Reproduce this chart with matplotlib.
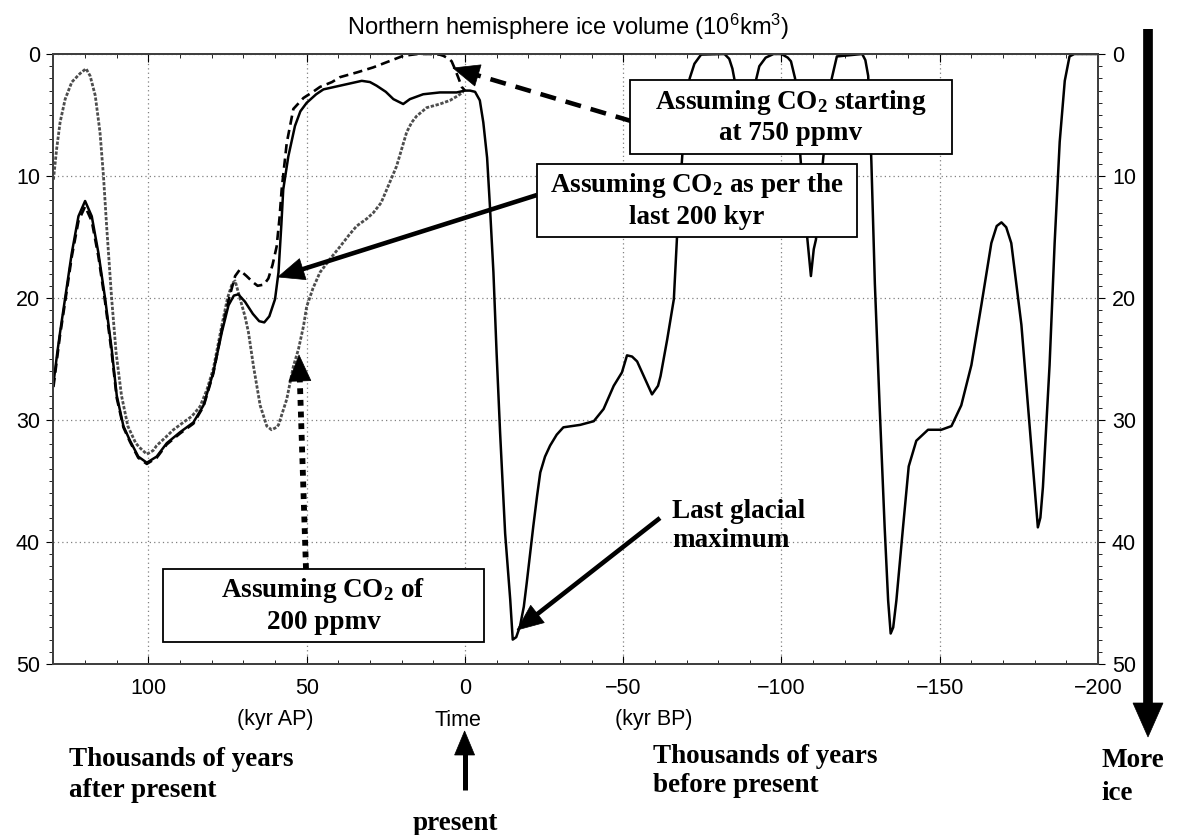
import numpy as np
import matplotlib
matplotlib.use('Agg')
import matplotlib.pyplot as plt
from matplotlib.ticker import MultipleLocator
from matplotlib.lines import Line2D
from matplotlib.patches import Rectangle, Polygon

plt.rcParams['font.family'] = ['Liberation Sans', 'DejaVu Sans']
plt.rcParams['mathtext.default'] = 'regular'

# time in kyr (positive = after present), ice volume in 10^6 km^3
solid_x = [130.0, 128.8, 127.9, 126.3, 124.2, 122.1, 120.0, 117.9, 115.8, 113.7,
           111.6, 110.0, 107.9, 105.8, 103.2, 100.5, 97.4, 94.2, 90.0, 85.8,
           82.6, 79.5, 76.8, 74.7, 73.0, 71.6, 69.5, 67.0, 65.0, 63.4,
           61.8, 60.0, 58.9, 58.0, 57.4, 55.8, 53.7, 52.0, 50.0, 47.0,
           44.7, 39.5, 32.6, 30.0, 27.9, 25.0, 22.6, 19.5, 17.4, 13.2,
           7.9, 2.6, 0.0, -1.6, -3.2, -4.7, -5.8, -7.0, -7.9, -9.0,
           -10.0, -11.1, -12.7, -14.3, -15.1, -16.2, -17.4, -18.6, -19.5, -20.6,
           -21.6, -22.8, -23.8, -25.3, -26.9, -29.0, -31.1, -36.4, -40.7, -43.8,
           -47.0, -49.6, -51.2, -52.8, -54.4, -57.0, -59.1, -61.0, -61.8, -63.9,
           -66.0, -67.0, -68.0, -69.0, -69.8, -71.0, -72.5, -74.6, -82.0, -83.5,
           -84.5, -85.3, -86.5, -88.5, -90.5, -91.8, -93.0, -95.0, -97.5, -100.0,
           -102.0, -103.0, -104.3, -105.2, -106.0, -107.2, -108.2, -109.3, -110.2, -110.9,
           -113.2, -115.8, -117.5, -125.5, -126.5, -127.4, -128.4, -129.5, -131.0, -132.6,
           -133.7, -134.5, -135.3, -136.3, -138.4, -140.2, -142.6, -146.3, -150.5, -153.7,
           -156.8, -160.0, -163.2, -166.3, -168.0, -169.5, -171.0, -172.6, -175.8, -178.4,
           -180.5, -181.0, -181.8, -182.6, -184.7, -186.3, -187.9, -189.5, -191.0, -192.5,
           -200.0]
solid_y = [27.0, 24.5, 22.8, 20.0, 16.3, 13.3, 12.05, 13.3, 16.3, 20.0,
           24.2, 28.0, 30.5, 31.7, 33.0, 33.5, 33.0, 31.9, 31.0, 30.2,
           28.8, 26.1, 22.8, 20.6, 19.8, 19.7, 20.3, 21.3, 21.9, 22.0,
           21.5, 20.1, 17.9, 14.0, 11.1, 8.4, 5.9, 4.7, 4.0, 3.3,
           2.9, 2.6, 2.2, 2.3, 2.6, 3.1, 3.7, 4.1, 3.7, 3.3,
           3.15, 3.15, 3.0, 3.0, 3.1, 3.8, 5.6, 8.5, 12.5, 17.9,
           24.5, 31.0, 39.3, 44.7, 48.0, 47.8, 46.9, 45.3, 43.4, 40.9,
           38.7, 36.2, 34.3, 33.0, 32.1, 31.2, 30.6, 30.4, 30.1, 29.1,
           27.2, 26.1, 24.7, 24.8, 25.2, 26.7, 27.9, 27.2, 26.4, 23.4,
           20.1, 15.0, 10.9, 7.0, 4.2, 2.0, 0.8, 0.05, 0.0, 0.4,
           1.2, 2.3, 4.5, 7.0, 4.5, 2.3, 1.0, 0.3, 0.0, 0.0,
           0.3, 0.6, 2.0, 5.0, 8.5, 12.5, 15.2, 18.2, 16.0, 15.2,
           8.5, 2.1, 0.2, 0.0, 0.5, 1.8, 8.8, 18.8, 28.8, 38.8,
           44.8, 47.5, 47.0, 44.8, 38.8, 33.8, 31.7, 30.8, 30.8, 30.5,
           28.8, 25.5, 20.5, 15.5, 14.1, 13.8, 14.2, 15.5, 22.2, 30.5,
           37.2, 38.8, 38.0, 35.5, 25.5, 15.5, 7.2, 2.2, 0.2, 0.0,
           0.0]

dash_x = [130.0, 128.0, 126.3, 124.2, 122.1, 120.0, 117.9, 115.8, 113.7, 111.6,
          110.0, 107.9, 105.8, 103.2, 100.5, 97.4, 94.2, 90.0, 85.8, 82.6,
          79.5, 76.8, 74.5, 72.6, 71.2, 69.0, 67.0, 65.5, 63.5, 62.1,
          60.8, 59.5, 58.6, 57.9, 56.3, 54.2, 51.0, 48.0, 45.8, 42.0,
          39.5, 34.0, 29.0, 24.0, 19.5, 15.0, 11.0, 8.0, 6.8, 5.0,
          4.2, 3.2, 2.0, 1.0, 0.0]
dash_y = [27.3, 23.2, 20.3, 16.6, 13.7, 12.5, 13.7, 16.6, 20.3, 24.5,
          28.2, 30.6, 31.8, 33.1, 33.6, 33.1, 32.0, 31.1, 30.3, 28.9,
          26.2, 22.6, 20.0, 18.2, 17.7, 18.2, 18.7, 19.0, 18.9, 18.4,
          17.3, 15.8, 13.5, 11.1, 7.3, 4.5, 3.6, 3.1, 2.7, 2.3,
          1.9, 1.5, 1.1, 0.6, 0.15, 0.0, 0.0, 0.05, 0.15, 0.4,
          0.6, 1.2, 2.0, 2.7, 3.0]

gray_x = [130.0, 129.0, 127.9, 126.3, 124.2, 121.6, 119.7, 118.4, 116.8, 115.3,
          114.2, 113.2, 111.6, 110.2, 108.5, 106.5, 104.0, 102.6, 100.5, 98.5,
          97.4, 94.5, 92.1, 89.0, 86.3, 83.7, 81.5, 79.5, 77.0, 75.0,
          73.5, 72.6, 71.1, 69.5, 68.4, 66.8, 64.7, 62.6, 61.1, 59.5,
          58.9, 56.3, 54.2, 52.6, 51.0, 50.0, 48.0, 45.8, 42.0, 39.5,
          36.5, 34.2, 31.0, 28.9, 26.5, 24.7, 21.6, 20.0, 18.4, 16.8,
          15.3, 12.1, 7.9, 4.7, 2.1, 0.5]
gray_y = [10.3, 7.8, 5.6, 3.7, 2.3, 1.6, 1.2, 1.8, 3.4, 6.4,
          10.0, 14.1, 20.1, 24.5, 28.0, 30.5, 31.9, 32.3, 32.8, 32.5,
          32.1, 31.4, 30.8, 30.2, 29.7, 28.9, 27.5, 25.8, 22.5, 20.0,
          18.8, 18.6, 20.0, 21.5, 22.8, 25.6, 28.8, 30.5, 30.8, 30.6,
          30.4, 28.3, 25.6, 24.2, 22.3, 20.7, 19.2, 17.9, 16.6, 15.8,
          14.8, 14.1, 13.5, 13.0, 12.2, 11.1, 9.2, 7.8, 6.4, 5.6,
          5.1, 4.4, 4.1, 3.8, 3.4, 3.1]

W, H = 1181, 835


def fx(px):
    return px / W


def fy(py):
    return 1 - py / H


fig = plt.figure(figsize=(W / 100, H / 100), dpi=100)
ax = fig.add_axes([fx(52.5), fy(664), (1098 - 52.5) / W, (664 - 54) / H])

ax.plot(gray_x, gray_y, color='0.3', lw=2.0, ls=(0, (1.2, 0.6)), zorder=2)
ax.plot(dash_x, dash_y, color='k', lw=1.9, ls=(0, (3.5, 2)), zorder=3)
ax.plot(solid_x, solid_y, color='k', lw=1.8, zorder=3)

ax.set_xlim(130.3, -200)
ax.set_ylim(50, 0)
ax.xaxis.set_major_locator(MultipleLocator(50))
ax.xaxis.set_minor_locator(MultipleLocator(10))
ax.yaxis.set_major_locator(MultipleLocator(10))
ax.yaxis.set_minor_locator(MultipleLocator(1))
ax.grid(True, which='major', ls=(0, (1, 2.5)), color='0.5', lw=0.9)
ax.set_axisbelow(True)
ax.tick_params(axis='x', which='both', direction='in', top=True, labelsize=15.5, pad=10)
ax.tick_params(axis='x', which='major', length=6)
ax.tick_params(axis='x', which='minor', length=3)
ax.tick_params(axis='y', which='major', direction='out', length=5, labelsize=15.5, pad=4)
ax.tick_params(axis='y', which='minor', direction='out', length=3)

ax2 = ax.twinx()
ax2.set_ylim(50, 0)
ax2.yaxis.set_major_locator(MultipleLocator(10))
ax2.yaxis.set_minor_locator(MultipleLocator(1))
ax2.tick_params(axis='y', which='major', direction='out', length=5, labelsize=15.5, pad=5)
ax2.tick_params(axis='y', which='minor', direction='out', length=3)

for a in (ax, ax2):
    for s in a.spines.values():
        s.set_color('0.25')
        s.set_linewidth(1.4)

fig.text(fx(568), fy(27), 'Northern hemisphere ice volume (10$^6$km$^3$)',
         ha='center', va='center', fontsize=17)

serif = dict(family='Liberation Serif', weight='bold', fontsize=19.5)


def box(x0, y0, x1, y1, txt):
    fig.add_artist(Rectangle((fx(x0), fy(y1)), fx(x1) - fx(x0), fy(y0) - fy(y1),
                             transform=fig.transFigure, fc='white', ec='black',
                             lw=1.3, zorder=4))
    fig.text(fx((x0 + x1) / 2), fy((y0 + y1) / 2), txt, ha='center', va='center',
             linespacing=1.25, zorder=5, **serif)


def arrow(tail, tip, ls='-', lw=3.3, hl=26, hw=22):
    t = np.array(tail, float)
    p = np.array(tip, float)
    u = (p - t) / np.hypot(*(p - t))
    n = np.array([-u[1], u[0]])
    b = p - u * hl
    fig.add_artist(Line2D([fx(t[0]), fx(b[0] + u[0] * 4)], [fy(t[1]), fy(b[1] + u[1] * 4)],
                          transform=fig.transFigure, color='k', lw=lw, ls=ls,
                          solid_capstyle='butt', dash_capstyle='butt', zorder=3))
    pts = [p, b + n * hw / 2, b - n * hw / 2]
    fig.add_artist(Polygon([(fx(q[0]), fy(q[1])) for q in pts], closed=True,
                           transform=fig.transFigure, fc='k', ec='k', lw=0.5, zorder=3))


box(630, 80, 952, 154, 'Assuming CO$_2$ starting\nat 750 ppmv')
box(537, 164, 857, 237, 'Assuming CO$_2$ as per the\nlast 200 kyr')
box(163, 569, 484, 642, 'Assuming CO$_2$ of\n200 ppmv')

arrow((631, 121), (453, 68), ls=(0, (3.5, 2.2)))
arrow((537, 195), (278, 277))
arrow((306, 569), (299, 355), ls=(0, (1, 1)), lw=4.2)
arrow((660, 518), (517, 630))
arrow((464.6, 790), (464.6, 731), lw=3.6, hl=24, hw=20)
arrow((1148, 29), (1148, 737), lw=7.0, hl=34, hw=30)

fig.text(fx(672), fy(526), 'Last glacial\nmaximum', ha='left', va='center',
         linespacing=1.2, **serif)

fig.text(fx(275), fy(720), '(kyr AP)', ha='center', va='center', fontsize=15.5)
fig.text(fx(458), fy(720), 'Time', ha='center', va='center', fontsize=15.5)
fig.text(fx(654), fy(720), '(kyr BP)', ha='center', va='center', fontsize=15.5)

fig.text(fx(69), fy(775), 'Thousands of years\nafter present', ha='left', va='center',
         linespacing=1.3, **serif)
fig.text(fx(653), fy(771), 'Thousands of years\nbefore present', ha='left', va='center',
         linespacing=1.25, **serif)
fig.text(fx(455), fy(823), 'present', ha='center', va='center', **serif)
fig.text(fx(1101), fy(777), 'More\nice', ha='left', va='center', linespacing=1.45, **serif)

fig.savefig('out.png', dpi=100)
